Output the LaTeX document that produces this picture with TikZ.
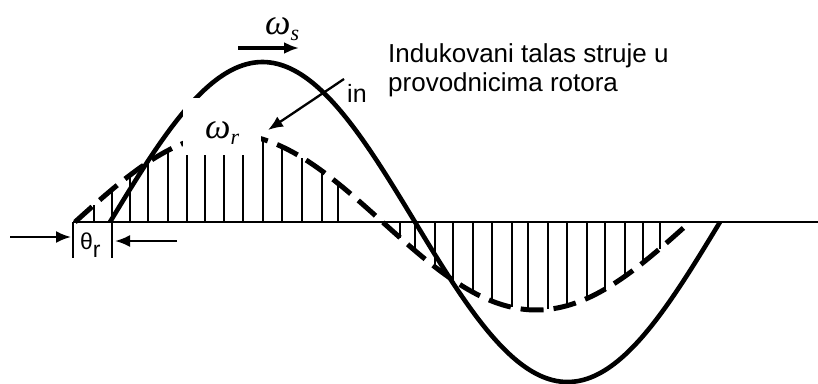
\documentclass[tikz,border=0pt]{standalone}
\usepackage{fontspec}
\setmainfont{Liberation Sans}
\newfontfamily\serifit{Liberation Serif}
\usetikzlibrary{arrows.meta}
\begin{document}
\begin{tikzpicture}[x=1pt,y=-1pt,
  curve/.style={line width=4.6pt},
  dcurve/.style={line width=5pt, dash pattern=on 23pt off 10pt},
  bar/.style={line width=2.3pt},
  axisline/.style={line width=1.5pt},
  arr/.style={line width=2.3pt,-{Latex[length=15pt,width=12pt]}},
  lbl/.style={font=\fontsize{26}{29}\selectfont, inner sep=0pt, anchor=base west},
  greek/.style={font=\serifit\itshape\fontsize{36}{36}\selectfont, inner sep=0pt, anchor=base west}
]
\useasboundingbox (0,0) rectangle (818,383);
\fill[white] (0,0) rectangle (818,383);
% axis
\draw[axisline] (73,222) -- (818,222);
% bars from axis to dashed curve
\foreach \x in {75,94,112,130,148,168,187,205,224,243,263,282,302,322,338,
                400,415,435,453,473,492,512,528,548,567,587,605,625,643,660}
  \draw[bar] (\x,222) -- (\x,{222-88*sin((\x-75)/615*360)});
% dashed rotor current wave
\draw[dcurve] plot[domain=75:690, samples=150] (\x,{222-88*sin((\x-75)/615*360)});
% solid stator wave
\draw[curve] plot[domain=110:720, samples=180] (\x,{222-160*sin((\x-110)/610*360)});
% theta_r marks
\draw[bar] (73,222) -- (73,258);
\draw[bar] (112,222) -- (112,258);
\coordinate (tA) at (10,237); \coordinate (tB) at (71,237);
\coordinate (tC) at (177,241); \coordinate (tD) at (115,241);
\draw[arr] (tA) -- (tB);
\draw[arr] (tC) -- (tD);
\node[font=\fontsize{23}{23}\selectfont, inner sep=0pt, anchor=base west] (th) at (80,249) {θ\raisebox{-8pt}{r}};
% mask behind omega_r label
\fill[white] (183,98) rectangle (261,155);
\node[greek] (wr) at (205,138) {ω\raisebox{-6pt}{\fontsize{22}{22}\selectfont r}};
% omega_s
\node[greek] (ws) at (265,34) {ω\raisebox{-6pt}{\fontsize{22}{22}\selectfont s}};
\coordinate (sA) at (238,48); \coordinate (sB) at (299,48);
\draw[line width=3.6pt,-{Latex[length=15pt,width=12pt]}] (sA) -- (sB);
% in label and arrow
\node[font=\fontsize{25}{25}\selectfont, inner sep=0pt, anchor=base west] (in) at (347,102) {in};
\coordinate (iA) at (344,79); \coordinate (iB) at (268,130);
\draw[arr] (iA) -- (iB);
% description
\node[lbl] (t1) at (388,62) {Indukovani talas struje u};
\node[lbl] (t2) at (388,91) {provodnicima rotora};
\end{tikzpicture}
\end{document}
